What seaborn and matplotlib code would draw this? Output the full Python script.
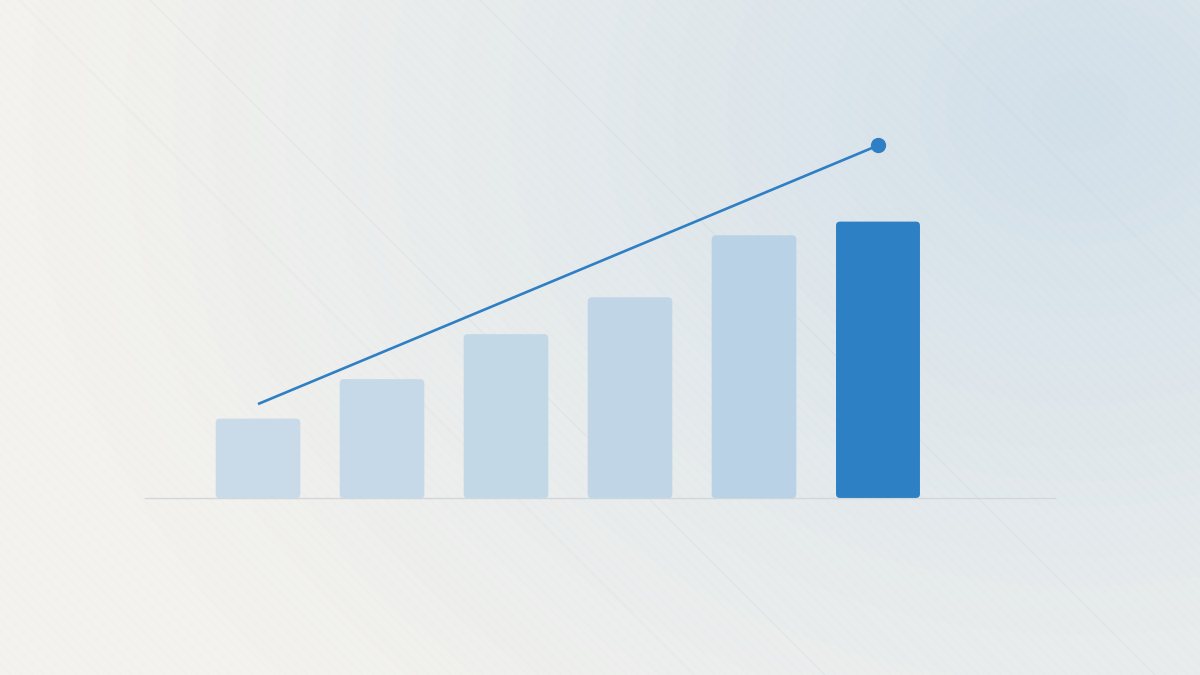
import numpy as np
import pandas as pd
import matplotlib
matplotlib.use("Agg")
import matplotlib.pyplot as plt
import seaborn as sns
from matplotlib.patches import FancyBboxPatch

# data (arbitrary units, baseline = 0)
categories = ["A", "B", "C", "D", "E", "F"]
values = [2.8, 4.2, 5.8, 7.1, 9.3, 9.8]
bar_colors = ["#c9dbe8", "#c6d9e8", "#c3d8e7", "#c0d6e7", "#b9d2e6", "#2e80c4"]
trend_x = [0, 5]
trend_y = [3.33, 12.5]

W, H = 1200, 675
fig = plt.figure(figsize=(12, 6.75), dpi=100)

# background: warm off-white on the left, soft blue glow to the top right
bg = fig.add_axes([0, 0, 1, 1])
bg.set_axis_off()
yy, xx = np.mgrid[0:H, 0:W]
warm = np.array([243, 242, 238]) / 255
blue = np.array([210, 224, 234]) / 255
d = np.sqrt((xx - 1080) ** 2 + ((yy - 110) * 1.2) ** 2)
w = np.clip(1 - d / 1050, 0, 1) ** 1.2
img = warm[None, None, :] * (1 - w[..., None]) + blue[None, None, :] * w[..., None]
bg.imshow(img, extent=[0, W, H, 0], aspect="auto")
for c in np.arange(-H, W, 11):
    bg.plot([c, c + H], [0, H], color="#9aa6ad", lw=0.6, alpha=0.04)
for c in [20, 150, 480, 900]:
    bg.plot([c, c + H], [0, H], color="#9aa6ad", lw=0.8, alpha=0.07)
bg.set_xlim(0, W)
bg.set_ylim(H, 0)

ax = fig.add_axes([0, 0, 1, 1])
ax.patch.set_alpha(0)
df = pd.DataFrame({"cat": categories, "val": values})
sns.barplot(data=df, x="cat", y="val", hue="cat", palette=bar_colors,
            width=0.677, legend=False, ax=ax, saturation=1)

# rounded corners
for p, col in zip(list(ax.patches), bar_colors):
    x0, y0, bw, bh = p.get_x(), p.get_y(), p.get_width(), p.get_height()
    p.remove()
    fb = FancyBboxPatch((x0, y0), bw, bh, boxstyle="round,pad=0,rounding_size=0.032",
                        mutation_aspect=4.4, facecolor=col, edgecolor=col,
                        lw=0.5 if col != "#2e80c4" else 0, zorder=2)
    ax.add_patch(fb)

ax.plot([-0.911, 6.427], [0, 0], color="#d3d7d9", lw=1, zorder=1)
ax.plot(trend_x, trend_y, color="#2f7fc4", lw=1.9, zorder=3, solid_capstyle="butt")
ax.plot(trend_x[-1:], trend_y[-1:], "o", color="#2f7fc4", ms=10, zorder=4)

ax.set_xlim(-2.081, 7.597)
ax.set_ylim(-6.28, 17.66)
ax.set_axis_off()

plt.savefig("out.png", dpi=100)
